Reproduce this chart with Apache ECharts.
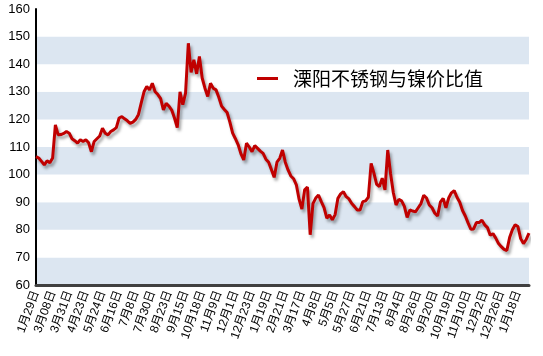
<!DOCTYPE html>
<html>
<head>
<meta charset="utf-8">
<script src="https://cdn.jsdelivr.net/npm/echarts@6/dist/echarts.min.js"></script>
<style>
html,body{margin:0;padding:0;background:#fff;}
#chart{width:543px;height:356px;}
</style>
</head>
<body>
<div id="chart"></div>
<script>
const seriesName = '溧阳不锈钢与镍价比值';
const tickLabels = ['1月29日','3月08日','3月31日','4月23日','5月24日','6月16日','7月8日','7月30日','8月23日','9月15日','10月18日','11月9日','12月1日','12月23日','1月19日','2月21日','3月17日','4月8日','5月5日','5月27日','6月21日','7月13日','8月4日','8月26日','9月20日','10月19日','11月10日','12月2日','12月26日','1月18日'];
const pointsPerTick = 6;
const ratioValues = [
106.5,106,104.8,103.5,105,104.3,106,118,114.4,114.5,
114.9,115.6,115,113,112.3,111.4,112.6,112,112.6,111.5,
108.3,112,113,114,116.8,115,114.4,115.6,116.2,117,
120.5,121,120.2,119.5,118.6,119,120,121.8,126,130,
131.9,130.7,133.1,130,129,127.5,123.4,125.8,124.8,123.4,
120.5,117,130,125.3,129.5,147.6,137,141.6,136.5,142.8,
135,131.3,128.3,133.1,131.3,130.7,128,124.8,123.6,122.5,
119,115,113,110.8,107.5,105.3,111.4,110,108.3,110.5,
109.5,108.5,107.7,105.6,104.5,101.8,99,104.5,105.9,108.9,
104.5,101.7,99.5,98.5,96.3,91,87.5,94.5,95.5,78.2,
89.5,91.5,92.6,90.2,88,84.2,85.4,83.6,85.5,91.4,
93,93.8,92,91.2,89.5,88.4,87.2,87.2,90.2,90.5,
91.8,104.1,100.5,96.5,95.7,98.7,94.5,108.9,100.5,93.5,
89,91,90.5,88.5,84.5,87.2,86.8,86.5,88,89.5,
92.5,91.5,89,88,86,85,90,91.4,88,91.5,
93.4,94.2,91.8,90,87,85,82.5,80.2,80.3,82.6,
82.6,83.5,81.8,80.8,78,78.6,77,75,73.9,72.9,
72.5,77.2,80,81.8,81.2,76.8,75,76.5,78.8
];
const categories = ratioValues.map((v, i) => String(i));

const chart = echarts.init(document.getElementById('chart'), null, {renderer: 'canvas'});
chart.setOption({
  animation: false,
  backgroundColor: '#ffffff',
  grid: {left: 36, right: 14, top: 9, bottom: 71, containLabel: false},
  legend: {
    data: [seriesName],
    left: 252,
    top: 64,
    icon: 'rect',
    itemWidth: 21,
    itemHeight: 3,
    textStyle: {fontFamily: '"Noto Sans CJK SC", sans-serif', fontSize: 19, color: '#000', padding: [0,0,0,10]}
  },
  xAxis: {
    type: 'category',
    data: categories,
    boundaryGap: false,
    axisLine: {show: true, lineStyle: {color: '#404040', width: 3}},
    axisTick: {show: false},
    splitLine: {show: false},
    axisLabel: {
      interval: pointsPerTick - 1,
      rotate: 70,
      margin: 6,
      fontSize: 12,
      color: '#000',
      fontFamily: '"Liberation Sans", "Noto Sans CJK SC", sans-serif',
      formatter: (val, idx) => tickLabels[idx / pointsPerTick] || ''
    }
  },
  yAxis: {
    type: 'value',
    min: 60,
    max: 160,
    interval: 10,
    axisLine: {show: true, lineStyle: {color: '#000', width: 2}},
    axisTick: {show: false},
    splitLine: {show: false},
    splitArea: {show: true, areaStyle: {color: ['#dce6f1', '#ffffff']}},
    axisLabel: {fontSize: 13, color: '#000', margin: 6, fontFamily: '"Liberation Sans", Arial, sans-serif'}
  },
  series: [{
    name: seriesName,
    type: 'line',
    data: ratioValues,
    symbol: 'none',
    showSymbol: false,
    itemStyle: {color: '#c00000'},
    lineStyle: {color: '#c00000', width: 3, shadowColor: 'rgba(0,0,0,0.35)', shadowBlur: 3, shadowOffsetX: 2, shadowOffsetY: 3}
  }]
});
</script>
</body>
</html>
